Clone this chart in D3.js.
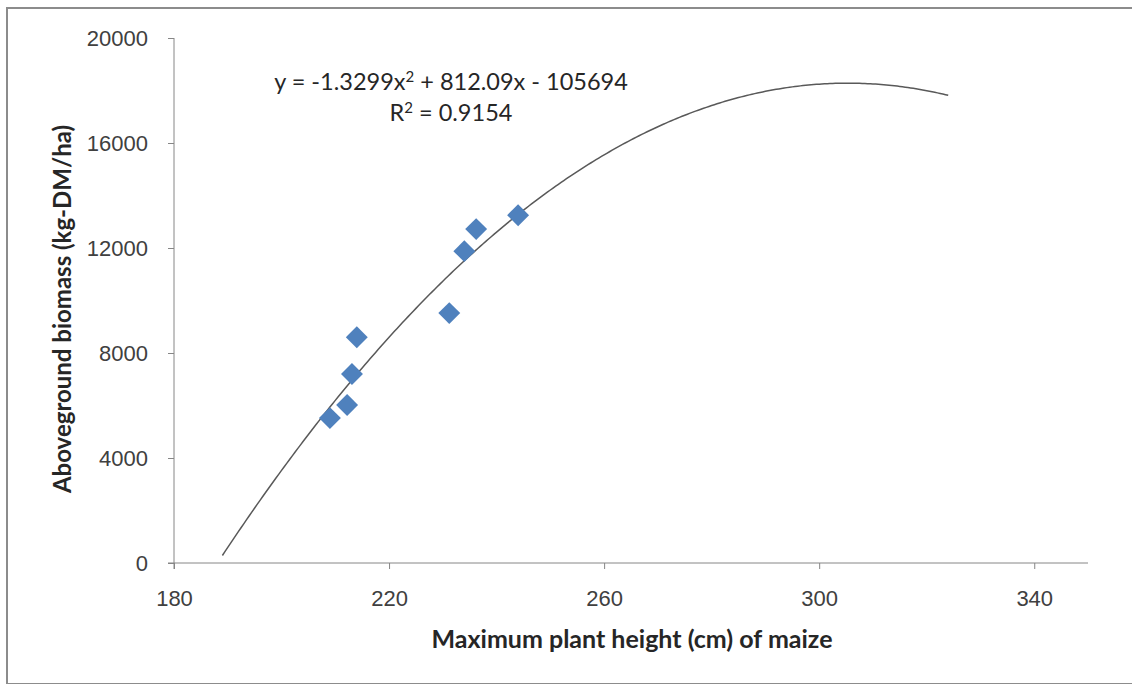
<!DOCTYPE html>
<html>
<head>
<meta charset="utf-8">
<script src="https://cdn.jsdelivr.net/npm/d3@7"></script>
<style>
  body { margin: 0; background: #fff; }
  svg { display: block; font-family: Lato, 'Open Sans', sans-serif; }
  .axis path, .axis line { stroke: #868686; }
  .axis text { font-size: 22px; fill: #404040; }
</style>
</head>
<body>
<svg id="chart" width="1132" height="684"></svg>
<script>
// maize plant height (cm) vs aboveground biomass (kg-DM/ha)
const heights = [209, 212.2, 213.1, 214, 231.2, 234, 236.2, 244];
const biomass = [5520, 6020, 7200, 8600, 9520, 11880, 12720, 13250];

const xTicks = [180, 220, 260, 300, 340];
const yTicks = [0, 4000, 8000, 12000, 16000, 20000];

// polynomial trendline as printed on the chart
const coef = [-1.3299, 812.09, -105694];
const trendFrom = 189;
const trendTo = 324;

const eqText = 'y = -1.3299x';
const r2Text = '0.9154';

const svg = d3.select('#chart');

// outer frame
svg.append('rect')
  .attr('x', 7).attr('y', 8)
  .attr('width', 1126).attr('height', 676)
  .attr('fill', 'none')
  .attr('stroke', '#8c8c8c')
  .attr('stroke-width', 2);

const x = d3.scaleLinear().domain([180, 350]).range([174, 1088]);
const y = d3.scaleLinear().domain([0, 20000]).range([563, 38]);

svg.append('g')
  .attr('class', 'axis')
  .attr('transform', 'translate(0,563)')
  .call(d3.axisBottom(x).tickValues(xTicks).tickSizeOuter(0).tickSize(6).tickPadding(21))
  .call(g => g.select('.domain').attr('d', `M${x(180) - 6},0H${x(350)}`));

svg.append('g')
  .attr('class', 'axis')
  .attr('transform', 'translate(174,0)')
  .call(d3.axisLeft(y).tickValues(yTicks).tickFormat(d3.format('d')).tickSizeOuter(0).tickSize(6).tickPadding(20))
  .call(g => g.select('.domain').attr('d', `M0,${y(20000)}V${y(0) + 6}`));

// trendline
const poly = h => coef[0] * h * h + coef[1] * h + coef[2];
const trendPts = d3.range(trendFrom, trendTo + 0.01, 0.5).map(h => [h, poly(h)]);
svg.append('path')
  .datum(trendPts)
  .attr('fill', 'none')
  .attr('stroke', '#595959')
  .attr('stroke-width', 1.5)
  .attr('d', d3.line().x(d => x(d[0])).y(d => y(d[1])));

// points
const diamond = d3.symbol().type(d3.symbolSquare).size(240);
svg.append('g').selectAll('path')
  .data(heights.map((h, i) => [h, biomass[i]]))
  .join('path')
  .attr('d', diamond)
  .attr('transform', d => `translate(${x(d[0])},${y(d[1])}) rotate(45)`)
  .attr('fill', '#4F81BD');

// equation label
const eq = svg.append('text')
  .attr('x', 451).attr('y', 90)
  .attr('text-anchor', 'middle')
  .attr('font-size', 23.5)
  .attr('fill', '#262626');
eq.append('tspan').text(eqText);
eq.append('tspan').attr('dy', -8).attr('font-size', 15).text('2');
eq.append('tspan').attr('dy', 8).text(' + 812.09x - 105694');

const r2 = svg.append('text')
  .attr('x', 451).attr('y', 121)
  .attr('text-anchor', 'middle')
  .attr('font-size', 23.5)
  .attr('fill', '#262626');
r2.append('tspan').text('R');
r2.append('tspan').attr('dy', -8).attr('font-size', 15).text('2');
r2.append('tspan').attr('dy', 8).text(' = ' + r2Text);

// axis titles
svg.append('text')
  .attr('x', 632).attr('y', 648)
  .attr('text-anchor', 'middle')
  .attr('font-size', 25)
  .attr('font-weight', 'bold')
  .attr('fill', '#262626')
  .text('Maximum plant height (cm) of maize');

svg.append('text')
  .attr('transform', 'translate(71,309) rotate(-90)')
  .attr('text-anchor', 'middle')
  .attr('font-size', 24)
  .attr('font-weight', 'bold')
  .attr('fill', '#262626')
  .text('Aboveground biomass (kg-DM/ha)');
</script>
</body>
</html>
